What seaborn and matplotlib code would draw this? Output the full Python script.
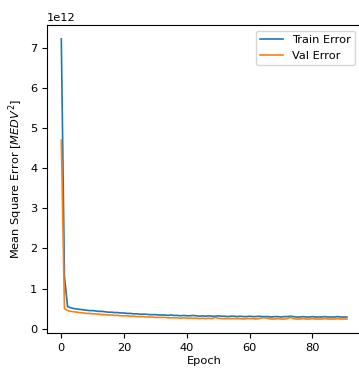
import matplotlib
matplotlib.use("Agg")
import matplotlib.pyplot as plt
import seaborn as sns
import pandas as pd
import numpy as np

epochs = list(range(92))
train_error = [7.22, 1.30, 0.55, 0.52, 0.50, 0.49, 0.48, 0.47, 0.46, 0.45,
               0.45, 0.44, 0.43, 0.43, 0.42, 0.41, 0.41, 0.40, 0.40, 0.39,
               0.39, 0.38, 0.38, 0.37, 0.37, 0.36, 0.36, 0.36, 0.35, 0.35,
               0.35, 0.34, 0.34, 0.34, 0.33, 0.34, 0.33, 0.33, 0.32, 0.33,
               0.32, 0.32, 0.33, 0.32, 0.31, 0.32, 0.31, 0.32, 0.31, 0.31,
               0.32, 0.31, 0.31, 0.30, 0.31, 0.31, 0.30, 0.31, 0.30, 0.30,
               0.31, 0.30, 0.30, 0.31, 0.30, 0.30, 0.30, 0.29, 0.30, 0.30,
               0.29, 0.30, 0.30, 0.31, 0.30, 0.29, 0.29, 0.30, 0.29, 0.29,
               0.30, 0.29, 0.29, 0.29, 0.30, 0.29, 0.29, 0.29, 0.30, 0.29,
               0.29, 0.29]
val_error = [4.70, 0.50, 0.45, 0.43, 0.42, 0.41, 0.40, 0.39, 0.38, 0.38,
             0.37, 0.37, 0.36, 0.35, 0.35, 0.34, 0.34, 0.33, 0.33, 0.32,
             0.32, 0.32, 0.31, 0.31, 0.30, 0.30, 0.30, 0.29, 0.29, 0.29,
             0.28, 0.28, 0.28, 0.28, 0.27, 0.27, 0.27, 0.27, 0.26, 0.27,
             0.26, 0.26, 0.26, 0.26, 0.25, 0.26, 0.25, 0.26, 0.25, 0.28,
             0.26, 0.25, 0.25, 0.25, 0.25, 0.25, 0.25, 0.25, 0.24, 0.25,
             0.25, 0.25, 0.24, 0.25, 0.27, 0.27, 0.25, 0.24, 0.24, 0.25,
             0.24, 0.24, 0.25, 0.28, 0.25, 0.24, 0.24, 0.25, 0.24, 0.24,
             0.25, 0.24, 0.24, 0.24, 0.25, 0.24, 0.24, 0.24, 0.25, 0.24,
             0.24, 0.24]
series_names = ["Train Error", "Val Error"]

scale = 1e12
df = pd.DataFrame({
    "Epoch": epochs + epochs,
    "value": [v * scale for v in train_error] + [v * scale for v in val_error],
    "series": [series_names[0]] * len(epochs) + [series_names[1]] * len(epochs),
})

fs = 8.2
plt.rcParams["font.family"] = ["DejaVu Sans"]
plt.rcParams["font.size"] = fs

fig = plt.figure(figsize=(3.59, 3.69), dpi=100)
ax = fig.add_axes([0.131, 0.0975, 0.875, 0.835])
sns.lineplot(data=df, x="Epoch", y="value", hue="series",
             palette=["#1f77b4", "#ff7f0e"], linewidth=1.2, ax=ax)
ax.set_xlabel("Epoch", fontsize=fs, labelpad=2.5)
ax.set_ylabel("Mean Square Error [$MEDV^2$]", fontsize=fs)
ax.set_xticks([0, 20, 40, 60, 80])
ax.set_yticks([0, 1e12, 2e12, 3e12, 4e12, 5e12, 6e12, 7e12])
ax.tick_params(labelsize=fs)
ax.yaxis.get_offset_text().set_fontsize(fs)
ax.legend(title=None, loc="upper right", fontsize=fs)
fig.savefig("out.png", dpi=100)
